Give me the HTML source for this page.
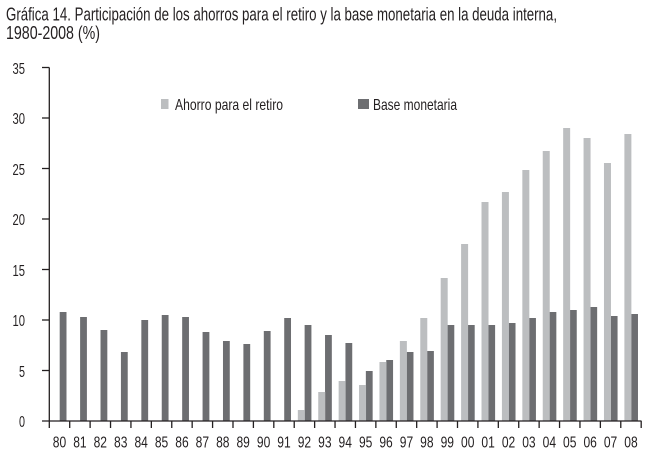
<!DOCTYPE html>
<html><head><meta charset="utf-8"><style>
html,body{margin:0;padding:0;background:#fff;}
svg{display:block;}
text{font-family:"Liberation Sans",sans-serif;fill:#231f20;}
</style></head><body>
<svg width="647" height="454" viewBox="0 0 647 454" xmlns="http://www.w3.org/2000/svg">
<text x="6" y="20.5" font-size="18" textLength="551" lengthAdjust="spacingAndGlyphs">Gráfica 14. Participación de los ahorros para el retiro y la base monetaria en la deuda interna,</text>
<text x="6" y="39" font-size="18" textLength="94" lengthAdjust="spacingAndGlyphs">1980-2008 (%)</text>

<!-- legend -->
<rect x="161" y="99" width="7.5" height="10" fill="#bcbec0"/>
<text x="175" y="110" font-size="16" textLength="108" lengthAdjust="spacingAndGlyphs">Ahorro para el retiro</text>
<rect x="358" y="99" width="11" height="10" fill="#6d6e71"/>
<text x="373" y="110" font-size="16" textLength="84" lengthAdjust="spacingAndGlyphs">Base monetaria</text>

<!-- y labels -->
<g font-size="16" text-anchor="end">
<text x="25" y="74" textLength="12.5" lengthAdjust="spacingAndGlyphs">35</text>
<text x="25" y="124" textLength="12.5" lengthAdjust="spacingAndGlyphs">30</text>
<text x="25" y="175" textLength="12.5" lengthAdjust="spacingAndGlyphs">25</text>
<text x="25" y="225" textLength="12.5" lengthAdjust="spacingAndGlyphs">20</text>
<text x="25" y="276" textLength="12.5" lengthAdjust="spacingAndGlyphs">15</text>
<text x="25" y="326" textLength="12.5" lengthAdjust="spacingAndGlyphs">10</text>
<text x="25" y="377" textLength="6" lengthAdjust="spacingAndGlyphs">5</text>
<text x="25" y="427" textLength="6" lengthAdjust="spacingAndGlyphs">0</text>
</g>

<!-- bars dark -->
<g fill="#6d6e71">
<rect x="59.7" y="312" width="6.8" height="109"/>
<rect x="80.11" y="317" width="6.8" height="104"/>
<rect x="100.52" y="330" width="6.8" height="91"/>
<rect x="120.93" y="352" width="6.8" height="69"/>
<rect x="141.34" y="320" width="6.8" height="101"/>
<rect x="161.75" y="315" width="6.8" height="106"/>
<rect x="182.16" y="317" width="6.8" height="104"/>
<rect x="202.57" y="332" width="6.8" height="89"/>
<rect x="222.98" y="341" width="6.8" height="80"/>
<rect x="243.39" y="344" width="6.8" height="77"/>
<rect x="263.8" y="331" width="6.8" height="90"/>
<rect x="284.21" y="318" width="6.8" height="103"/>
<rect x="304.62" y="325" width="6.8" height="96"/>
<rect x="325.03" y="335" width="6.8" height="86"/>
<rect x="345.44" y="343" width="6.8" height="78"/>
<rect x="365.85" y="371" width="6.8" height="50"/>
<rect x="386.26" y="360" width="6.8" height="61"/>
<rect x="406.67" y="352" width="6.8" height="69"/>
<rect x="427.08" y="351" width="6.8" height="70"/>
<rect x="447.49" y="325" width="6.8" height="96"/>
<rect x="467.9" y="325" width="6.8" height="96"/>
<rect x="488.31" y="325" width="6.8" height="96"/>
<rect x="508.72" y="323" width="6.8" height="98"/>
<rect x="529.13" y="318" width="6.8" height="103"/>
<rect x="549.54" y="312" width="6.8" height="109"/>
<rect x="569.95" y="310" width="6.8" height="111"/>
<rect x="590.36" y="307" width="6.8" height="114"/>
<rect x="610.77" y="316" width="6.8" height="105"/>
<rect x="631.18" y="314" width="6.8" height="107"/>
</g>
<!-- bars light -->
<g fill="#bcbec0">
<rect x="297.82" y="410" width="7" height="11"/>
<rect x="318.23" y="392" width="7" height="29"/>
<rect x="338.64" y="381" width="7" height="40"/>
<rect x="359.05" y="385" width="7" height="36"/>
<rect x="379.46" y="362" width="7" height="59"/>
<rect x="399.87" y="341" width="7" height="80"/>
<rect x="420.28" y="318" width="7" height="103"/>
<rect x="440.69" y="278" width="7" height="143"/>
<rect x="461.1" y="244" width="7" height="177"/>
<rect x="481.51" y="202" width="7" height="219"/>
<rect x="501.92" y="192" width="7" height="229"/>
<rect x="522.33" y="170" width="7" height="251"/>
<rect x="542.74" y="151" width="7" height="270"/>
<rect x="563.15" y="128" width="7" height="293"/>
<rect x="583.56" y="138" width="7" height="283"/>
<rect x="603.97" y="163" width="7" height="258"/>
<rect x="624.38" y="134" width="7" height="287"/>
</g>

<!-- axes -->
<g stroke="#231f20" stroke-width="1.3" fill="none">
<line x1="49.3" y1="67.5" x2="49.3" y2="421"/>
<line x1="42" y1="421" x2="641.5" y2="421"/>
<line x1="42" y1="67.5" x2="49.3" y2="67.5"/>
<line x1="42" y1="118" x2="49.3" y2="118"/>
<line x1="42" y1="168.5" x2="49.3" y2="168.5"/>
<line x1="42" y1="219" x2="49.3" y2="219"/>
<line x1="42" y1="269.5" x2="49.3" y2="269.5"/>
<line x1="42" y1="320" x2="49.3" y2="320"/>
<line x1="42" y1="370.5" x2="49.3" y2="370.5"/>
<path d="M49.3 421v7M69.71 421v7M90.12 421v7M110.53 421v7M130.94 421v7M151.35 421v7M171.76 421v7M192.17 421v7M212.58 421v7M232.99 421v7M253.4 421v7M273.81 421v7M294.22 421v7M314.63 421v7M335.04 421v7M355.45 421v7M375.86 421v7M396.27 421v7M416.68 421v7M437.09 421v7M457.5 421v7M477.91 421v7M498.32 421v7M518.73 421v7M539.14 421v7M559.55 421v7M579.96 421v7M600.37 421v7M620.78 421v7M641.19 421v7"/>
</g>

<!-- x labels -->
<g font-size="16" text-anchor="middle">
<text x="59.5" y="447.5" textLength="13.4" lengthAdjust="spacingAndGlyphs">80</text>
<text x="79.91" y="447.5" textLength="13.4" lengthAdjust="spacingAndGlyphs">81</text>
<text x="100.32" y="447.5" textLength="13.4" lengthAdjust="spacingAndGlyphs">82</text>
<text x="120.73" y="447.5" textLength="13.4" lengthAdjust="spacingAndGlyphs">83</text>
<text x="141.14" y="447.5" textLength="13.4" lengthAdjust="spacingAndGlyphs">84</text>
<text x="161.55" y="447.5" textLength="13.4" lengthAdjust="spacingAndGlyphs">85</text>
<text x="181.96" y="447.5" textLength="13.4" lengthAdjust="spacingAndGlyphs">86</text>
<text x="202.37" y="447.5" textLength="13.4" lengthAdjust="spacingAndGlyphs">87</text>
<text x="222.78" y="447.5" textLength="13.4" lengthAdjust="spacingAndGlyphs">88</text>
<text x="243.19" y="447.5" textLength="13.4" lengthAdjust="spacingAndGlyphs">89</text>
<text x="263.6" y="447.5" textLength="13.4" lengthAdjust="spacingAndGlyphs">90</text>
<text x="284.01" y="447.5" textLength="13.4" lengthAdjust="spacingAndGlyphs">91</text>
<text x="304.42" y="447.5" textLength="13.4" lengthAdjust="spacingAndGlyphs">92</text>
<text x="324.83" y="447.5" textLength="13.4" lengthAdjust="spacingAndGlyphs">93</text>
<text x="345.24" y="447.5" textLength="13.4" lengthAdjust="spacingAndGlyphs">94</text>
<text x="365.65" y="447.5" textLength="13.4" lengthAdjust="spacingAndGlyphs">95</text>
<text x="386.06" y="447.5" textLength="13.4" lengthAdjust="spacingAndGlyphs">96</text>
<text x="406.47" y="447.5" textLength="13.4" lengthAdjust="spacingAndGlyphs">97</text>
<text x="426.88" y="447.5" textLength="13.4" lengthAdjust="spacingAndGlyphs">98</text>
<text x="447.29" y="447.5" textLength="13.4" lengthAdjust="spacingAndGlyphs">99</text>
<text x="467.7" y="447.5" textLength="13.4" lengthAdjust="spacingAndGlyphs">00</text>
<text x="488.11" y="447.5" textLength="13.4" lengthAdjust="spacingAndGlyphs">01</text>
<text x="508.52" y="447.5" textLength="13.4" lengthAdjust="spacingAndGlyphs">02</text>
<text x="528.93" y="447.5" textLength="13.4" lengthAdjust="spacingAndGlyphs">03</text>
<text x="549.34" y="447.5" textLength="13.4" lengthAdjust="spacingAndGlyphs">04</text>
<text x="569.75" y="447.5" textLength="13.4" lengthAdjust="spacingAndGlyphs">05</text>
<text x="590.16" y="447.5" textLength="13.4" lengthAdjust="spacingAndGlyphs">06</text>
<text x="610.57" y="447.5" textLength="13.4" lengthAdjust="spacingAndGlyphs">07</text>
<text x="630.98" y="447.5" textLength="13.4" lengthAdjust="spacingAndGlyphs">08</text>
</g>
</svg>
</body></html>
